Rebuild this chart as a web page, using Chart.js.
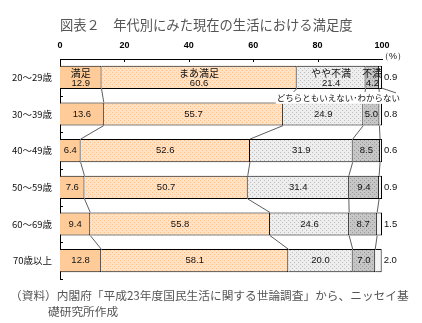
<!DOCTYPE html>
<html lang="ja">
<head>
<meta charset="utf-8">
<script src="https://cdn.jsdelivr.net/npm/chart.js@4"></script>
<style>
  body { margin: 0; background: #fff; }
  #wrap { position: relative; width: 422px; height: 323px; }
  #chart { position: absolute; left: 0; top: 0; }
  #title { position: absolute; left: 60px; top: 17px; font: 13.3px "Noto Sans CJK JP"; color: #555; white-space: nowrap; line-height: 16px; }
  #note { position: absolute; left: 10px; top: 287px; font: 11.7px "Noto Sans CJK JP"; color: #555; line-height: 16px; white-space: nowrap; }
  #note span { display: block; padding-left: 38px; }
</style>
</head>
<body>
<div id="wrap">
  <canvas id="chart" width="422" height="323"></canvas>
  <div id="title">図表２　年代別にみた現在の生活における満足度</div>
  <div id="note">（資料）内閣府「平成23年度国民生活に関する世論調査」から、ニッセイ基<span>礎研究所作成</span></div>
</div>
<script>
const ageGroups = ['20～29歳', '30～39歳', '40～49歳', '50～59歳', '60～69歳', '70歳以上'];
const answerNames = ['満足', 'まあ満足', 'やや不満', '不満', 'どちらともいえない･わからない'];
const satisfied = [12.9, 13.6, 6.4, 7.6, 9.4, 12.8];
const fairlySatisfied = [60.6, 55.7, 52.6, 50.7, 55.8, 58.1];
const somewhatDissatisfied = [21.4, 24.9, 31.9, 31.4, 24.6, 20.0];
const dissatisfied = [4.2, 5.0, 8.5, 9.4, 8.7, 7.0];
const dontKnow = [0.9, 0.8, 0.6, 0.9, 1.5, 2.0];
const xTicks = [0, 20, 40, 60, 80, 100];

// 網掛け用の小さなパターン
function makePattern(base, dot) {
    const c = document.createElement('canvas');
    c.width = 4; c.height = 4;
    const g = c.getContext('2d');
    g.fillStyle = base;
    g.fillRect(0, 0, 4, 4);
    g.fillStyle = dot;
    g.fillRect(0, 0, 1, 1);
    g.fillRect(2, 2, 1, 1);
    return g.createPattern(c, 'repeat');
}

const seriesValues = [satisfied, fairlySatisfied, somewhatDissatisfied, dissatisfied, dontKnow];
const fills = [
    '#FFCC99',
    makePattern('#FFE2C4', '#FFC08A'),
    makePattern('#EEEEEE', '#BDBDBD'),
    makePattern('#C6C6C6', '#9A9A9A'),
    '#F4F4F4'
];

// 区分線（系列線）を棒の間に引く
const seriesLines = {
    id: 'seriesLines',
    afterDatasetsDraw(chart) {
        const ctx = chart.ctx;
        const xs = chart.scales.x;
        const bars = chart.getDatasetMeta(0).data;
        ctx.save();
        ctx.strokeStyle = '#333';
        ctx.lineWidth = 0.8;
        for (let j = 0; j < 4; j++) {
            for (let i = 0; i < ageGroups.length - 1; i++) {
                let c1 = 0, c2 = 0;
                for (let k = 0; k <= j; k++) { c1 += seriesValues[k][i]; c2 += seriesValues[k][i + 1]; }
                const a = bars[i], b = bars[i + 1];
                ctx.beginPath();
                ctx.moveTo(xs.getPixelForValue(c1), a.y + a.height / 2);
                ctx.lineTo(xs.getPixelForValue(c2), b.y - b.height / 2);
                ctx.stroke();
            }
        }
        ctx.restore();
    }
};

// 数値ラベル
const valueLabels = {
    id: 'valueLabels',
    afterDatasetsDraw(chart) {
        const ctx = chart.ctx;
        ctx.save();
        ctx.fillStyle = '#111';
        ctx.textBaseline = 'middle';
        chart.data.datasets.forEach((ds, d) => {
            chart.getDatasetMeta(d).data.forEach((el, i) => {
                const txt = ds.data[i].toFixed(1);
                ctx.font = '9.5px "Liberation Sans", Arial, sans-serif';
                if (d === 4) {
                    ctx.textAlign = 'left';
                    ctx.fillText(txt, el.x + 2, el.y);
                    return;
                }
                const cx = (el.x + el.base) / 2;
                ctx.textAlign = 'center';
                if (i === 0) {
                    ctx.fillText(txt, cx, el.y + 6);
                    ctx.font = '10px "Noto Sans CJK JP"';
                    ctx.fillText(answerNames[d], cx, el.y - 4);
                } else {
                    ctx.fillText(txt, cx, el.y);
                }
            });
        });

        // 「どちらともいえない・わからない」の注記
        const last = chart.getDatasetMeta(4).data[0];
        ctx.font = '8.5px "Noto Sans CJK JP"';
        const w = ctx.measureText(answerNames[4]).width;
        const ty = last.y + last.height / 2 + 9;
        ctx.fillStyle = '#fff';
        ctx.fillRect(400 - w - 1, ty - 6, w + 2, 12);
        ctx.fillStyle = '#111';
        ctx.textAlign = 'right';
        ctx.fillText(answerNames[4], 400, ty);
        ctx.strokeStyle = '#333';
        ctx.lineWidth = 0.8;
        ctx.beginPath();
        ctx.moveTo(last.x - 1, last.y + last.height / 2 - 1);
        ctx.lineTo(396, ty - 5);
        ctx.stroke();
        ctx.restore();
    }
};

// 内向きの目盛りと単位
const axisMarks = {
    id: 'axisMarks',
    afterDraw(chart) {
        const ctx = chart.ctx;
        const area = chart.chartArea;
        const xs = chart.scales.x;
        const ys = chart.scales.y;
        ctx.save();
        ctx.strokeStyle = '#000';
        ctx.lineWidth = 1;
        ctx.beginPath();
        xTicks.slice(1, -1).forEach(v => {
            const px = Math.round(xs.getPixelForValue(v)) + 0.5;
            ctx.moveTo(px, area.top);
            ctx.lineTo(px, area.top + 3);
        });
        for (let i = 0; i < ageGroups.length; i++) {
            const py = Math.round(ys.getPixelForValue(i) + (ys.getPixelForValue(1) - ys.getPixelForValue(0)) / 2) + 0.5;
            ctx.moveTo(area.left, py);
            ctx.lineTo(area.left + 3, py);
        }
        ctx.stroke();
        ctx.fillStyle = '#111';
        ctx.font = '9px "Liberation Sans", Arial, sans-serif';
        ctx.textAlign = 'left';
        ctx.textBaseline = 'middle';
        ctx.fillText('（%）', area.right - 2, area.top - 2);
        ctx.restore();
    }
};

new Chart(document.getElementById('chart'), {
    type: 'bar',
    data: {
        labels: ageGroups,
        datasets: seriesValues.map((vals, d) => ({
            label: answerNames[d],
            data: vals,
            backgroundColor: fills[d],
            borderColor: '#000',
            borderWidth: 1,
            barPercentage: 0.63,
            categoryPercentage: 1
        }))
    },
    options: {
        indexAxis: 'y',
        responsive: false,
        animation: false,
        layout: { padding: { left: 0, right: 40, top: 0, bottom: 44 } },
        plugins: { legend: { display: false }, tooltip: { enabled: false } },
        scales: {
            x: {
                position: 'top',
                stacked: true,
                min: 0,
                max: 100,
                afterBuildTicks: s => { s.ticks = xTicks.map(v => ({ value: v })); },
                afterFit: s => { s.height = 59; },
                ticks: { color: '#000', font: { family: '"Liberation Sans", Arial', size: 9, weight: 'bold' }, padding: 8 },
                grid: { display: false, drawTicks: false },
                border: { display: true, color: '#000', width: 1 }
            },
            y: {
                stacked: true,
                afterFit: s => { s.width = 60; },
                ticks: { color: '#111', font: { family: '"Noto Sans CJK JP"', size: 9.5 }, padding: 8 },
                grid: { display: false, drawTicks: false },
                border: { display: true, color: '#000', width: 1 }
            }
        }
    },
    plugins: [seriesLines, valueLabels, axisMarks]
});
</script>
</body>
</html>
